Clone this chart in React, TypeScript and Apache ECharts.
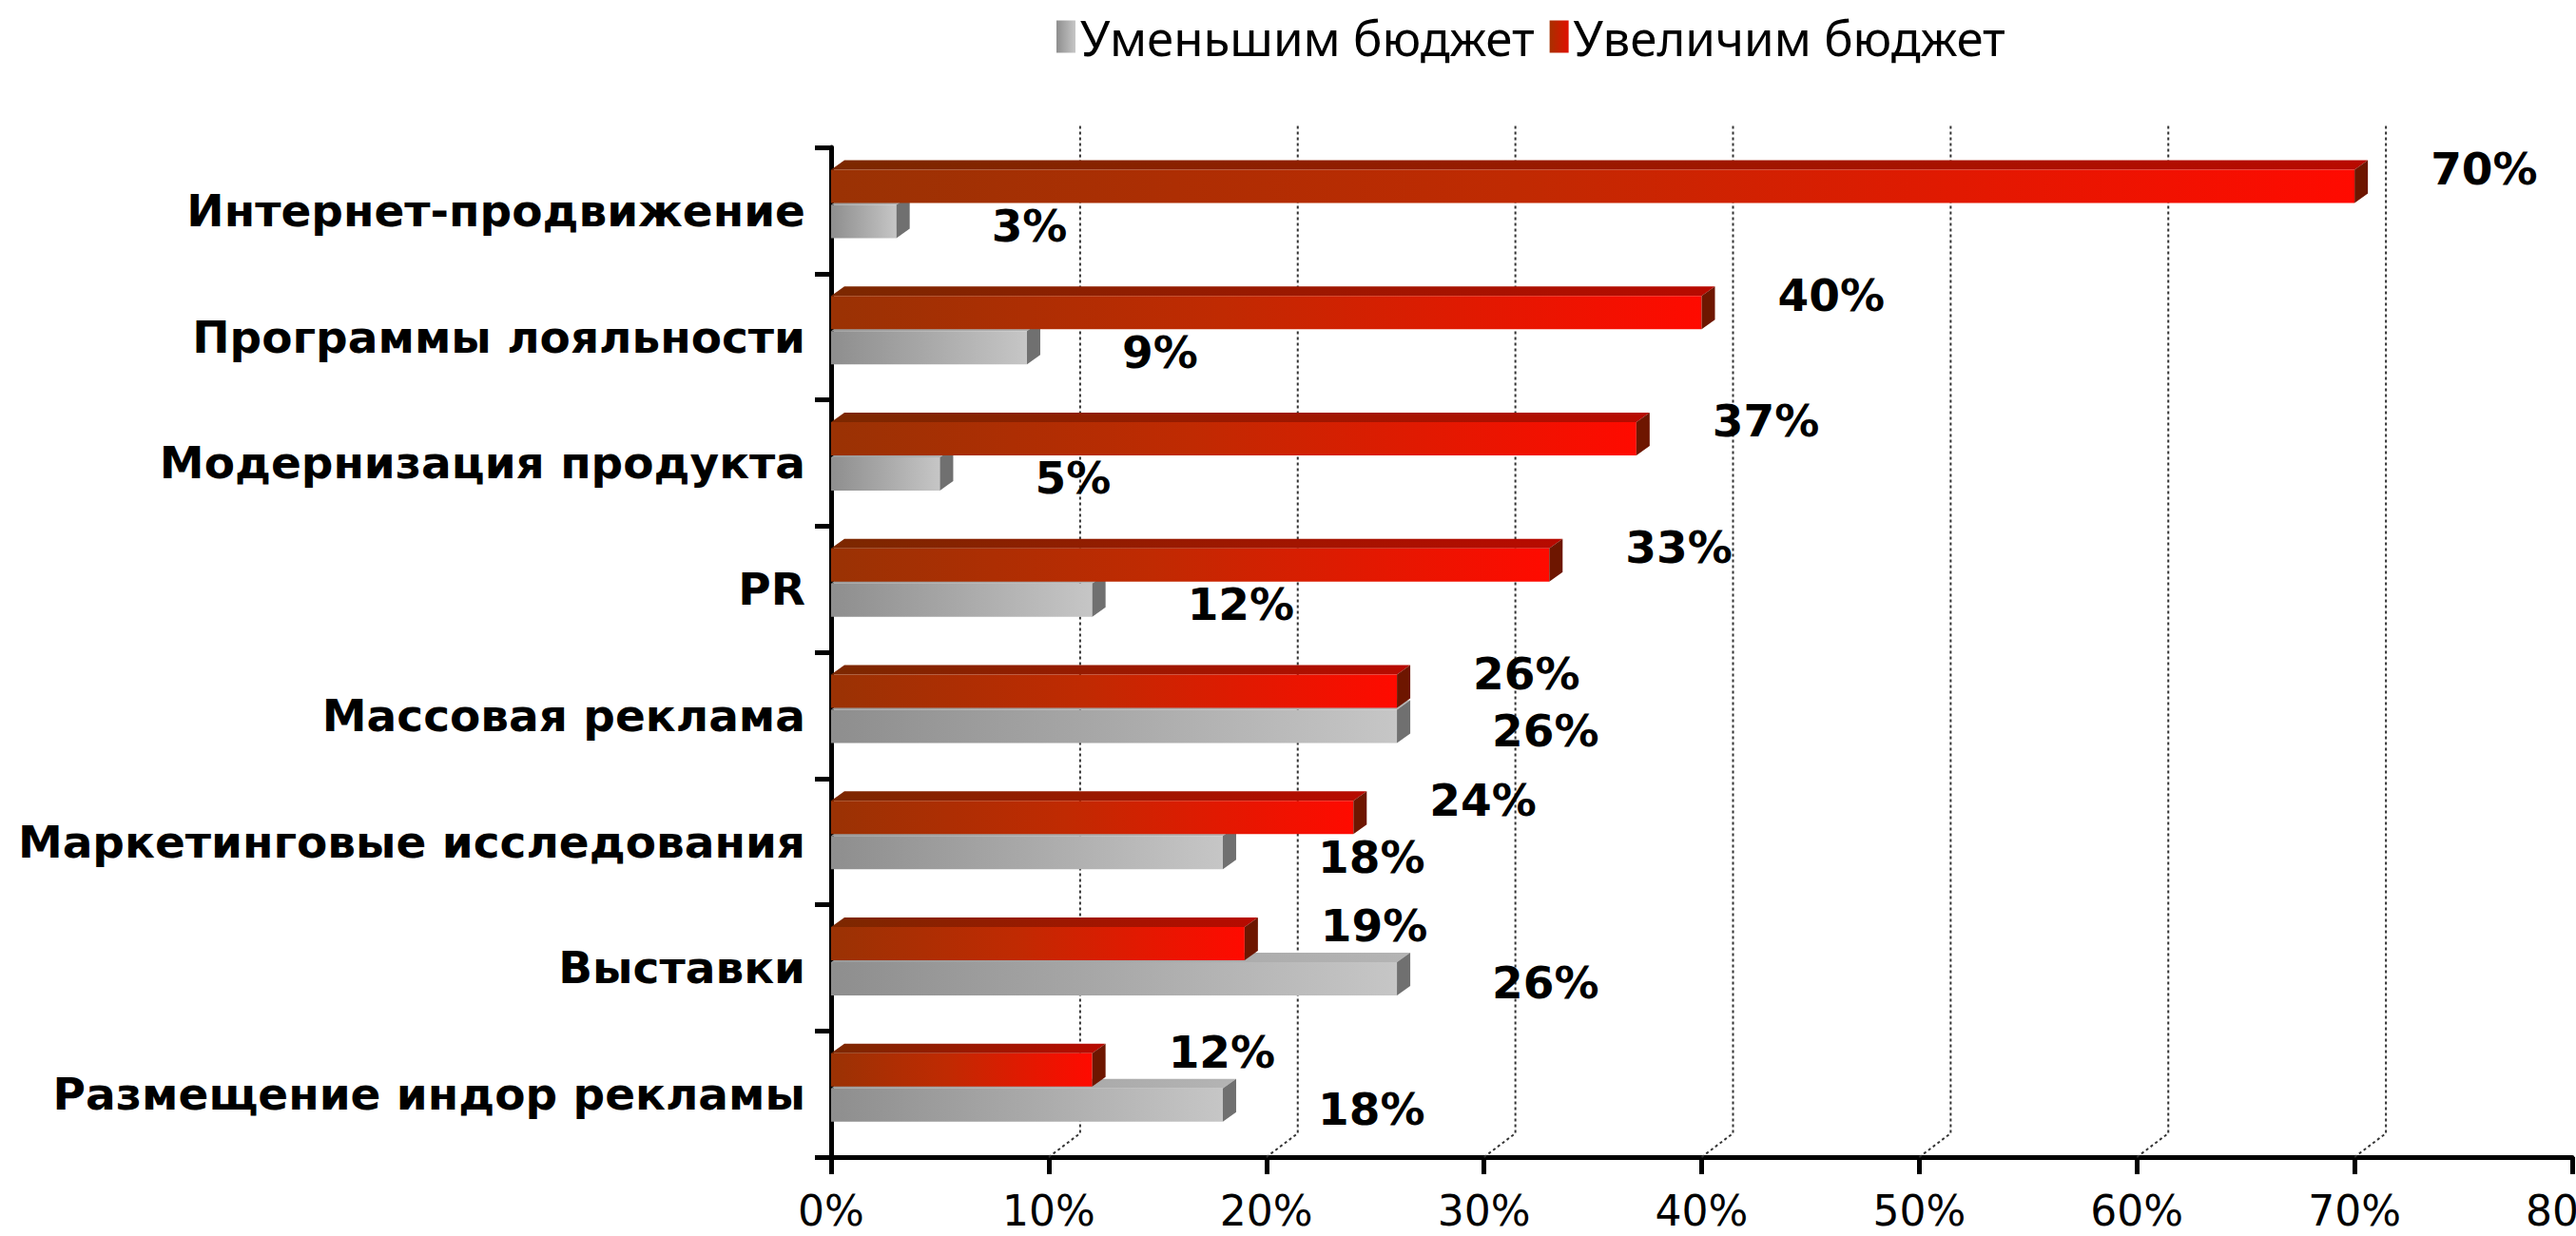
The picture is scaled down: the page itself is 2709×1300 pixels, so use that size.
import React, { useEffect, useRef } from "react";
import * as echarts from "echarts";

const categories = [
  "Интернет-продвижение",
  "Программы лояльности",
  "Модернизация продукта",
  "PR",
  "Массовая реклама",
  "Маркетинговые исследования",
  "Выставки",
  "Размещение индор рекламы",
];
const decreaseValues = [3, 9, 5, 12, 26, 18, 26, 18];
const increaseValues = [70, 40, 37, 33, 26, 24, 19, 12];
const seriesNames = ["Уменьшим бюджет", "Увеличим бюджет"];
const gridValues = [10, 20, 30, 40, 50, 60, 70];
const axisMin = 0;
const axisMax = 80;
const axisInterval = 10;

const lin = (stops: [number, string][]) => ({
  type: "linear",
  x: 0,
  y: 0,
  x2: 1,
  y2: 0,
  colorStops: stops.map(([offset, color]) => ({ offset, color })),
});

const palettes: any = {
  grey: {
    front: lin([[0, "#8e8e8e"], [0.5, "#a9a9a9"], [1, "#c6c6c6"]]),
    top: lin([[0, "#9a9a9a"], [1, "#b4b4b4"]]),
    side: "#707070",
    legend: lin([[0, "#8e8e8e"], [1, "#c6c6c6"]]),
    yFront: -6,
    labelDx: 100,
    labelDy: 16,
  },
  red: {
    front: lin([[0, "#9a3204"], [0.45, "#c02a02"], [1, "#ff0a00"]]),
    top: lin([[0, "#7c2800"], [1, "#b80a00"]]),
    side: "#6e1600",
    legend: lin([[0, "#a83000"], [1, "#e01000"]]),
    yFront: -43,
    labelDx: 80,
    labelDy: -44,
  },
};

const BAR_H = 35;
const DEPTH_X = 14;
const DEPTH_Y = -10;

function barRenderer(kind: string) {
  const pal = palettes[kind];
  return (params: any, api: any) => {
    const v = api.value(0);
    const idx = api.value(1);
    const end = api.coord([v, idx]);
    const start = api.coord([0, idx]);
    const x0 = start[0];
    const x1 = end[0];
    const c = end[1];
    const y0 = c + pal.yFront;
    return {
      type: "group",
      children: [
        {
          type: "polygon",
          shape: {
            points: [
              [x0, y0],
              [x1, y0],
              [x1 + DEPTH_X, y0 + DEPTH_Y],
              [x0 + DEPTH_X, y0 + DEPTH_Y],
            ],
          },
          style: { fill: pal.top },
        },
        {
          type: "rect",
          shape: { x: x0, y: y0, width: x1 - x0, height: BAR_H },
          style: { fill: pal.front },
        },
        {
          type: "polygon",
          shape: {
            points: [
              [x1, y0],
              [x1 + DEPTH_X, y0 + DEPTH_Y],
              [x1 + DEPTH_X, y0 + DEPTH_Y + BAR_H],
              [x1, y0 + BAR_H],
            ],
          },
          style: { fill: pal.side },
        },
        {
          type: "text",
          x: x1 + pal.labelDx,
          y: c + pal.labelDy,
          style: {
            text: v + "%",
            fill: "#000",
            font: 'bold 47px "DejaVu Sans"',
            align: "left",
            verticalAlign: "middle",
          },
        },
      ],
    };
  };
}

export default function App() {
  const ref = useRef<HTMLDivElement>(null);
  useEffect(() => {
    document.body.style.margin = "0";
    const chart = echarts.init(ref.current!, null, { renderer: "svg" });
    chart.setOption({
      animation: false,
      backgroundColor: "#ffffff",
      textStyle: { fontFamily: "Noto Sans" },
      legend: {
        data: seriesNames,
        left: 1106,
        top: 8,
        icon: "rect",
        itemWidth: 20,
        itemHeight: 34,
        itemGap: 16,
        textStyle: { fontSize: 51, color: "#000", fontFamily: "Noto Sans" },
      },
      grid: { left: 874, right: 4, top: 155, bottom: 83, outerBoundsMode: "none" },
      xAxis: {
        type: "value",
        min: axisMin,
        max: axisMax,
        interval: axisInterval,
        axisLine: { show: true, lineStyle: { color: "#000", width: 5 } },
        axisTick: { show: true, length: 18, lineStyle: { color: "#000", width: 5 } },
        splitLine: { show: false },
        axisLabel: {
          formatter: "{value}%",
          fontSize: 44,
          lineHeight: 44,
          color: "#000",
          fontFamily: "DejaVu Sans",
          margin: 34,
        },
      },
      yAxis: {
        type: "category",
        data: categories,
        inverse: true,
        axisLine: { show: true, lineStyle: { color: "#000", width: 5 } },
        axisTick: { show: true, length: 17, lineStyle: { color: "#000", width: 5 } },
        splitLine: { show: false },
        axisLabel: {
          fontSize: 47,
          fontWeight: "bold",
          color: "#000",
          fontFamily: "DejaVu Sans",
          margin: 27,
        },
      },
      series: [
        {
          type: "custom",
          name: "grid",
          z: 1,
          data: gridValues.map((v) => [v, 0]),
          encode: { x: 0, y: 1 },
          renderItem: (params: any, api: any) => {
            const v = api.value(0);
            const p = api.coord([v, 0]);
            const cs = params.coordSys;
            const bottom = cs.y + cs.height;
            return {
              type: "polyline",
              shape: {
                points: [
                  [p[0], bottom],
                  [p[0] + 33, bottom - 25],
                  [p[0] + 33, cs.y - 25],
                ],
              },
              style: { stroke: "#333333", lineWidth: 2, lineDash: [3, 3], fill: null },
            };
          },
        },
        {
          type: "custom",
          name: seriesNames[0],
          z: 2,
          itemStyle: { color: palettes.grey.legend },
          data: decreaseValues.map((v, i) => [v, i]),
          encode: { x: 0, y: 1 },
          renderItem: barRenderer("grey"),
        },
        {
          type: "custom",
          name: seriesNames[1],
          z: 3,
          itemStyle: { color: palettes.red.legend },
          data: increaseValues.map((v, i) => [v, i]),
          encode: { x: 0, y: 1 },
          renderItem: barRenderer("red"),
        },
      ],
    });
    return () => chart.dispose();
  }, []);
  return <div ref={ref} style={{ width: 2709, height: 1300 }} />;
}
